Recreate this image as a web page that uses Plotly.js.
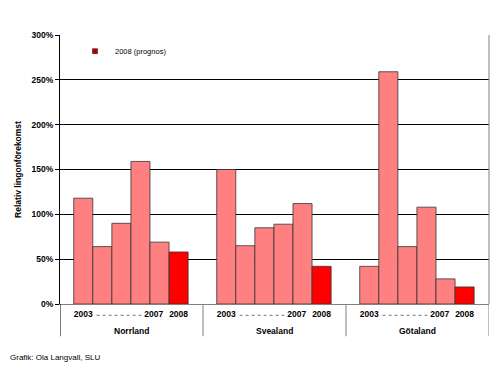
<!DOCTYPE html>
<html><head><meta charset="utf-8">
<script src="https://cdn.plot.ly/plotly-3.0.1.min.js"></script>
<style>html,body{margin:0;padding:0;background:#fff}#c{width:500px;height:371px}</style>
</head><body><div id="c"></div>
<script>
const regions = ["Norrland", "Svealand", "Götaland"];
const years = [2003, 2004, 2005, 2006, 2007, 2008];
const historic = {
  "Norrland": [118, 64, 90, 159, 69],
  "Svealand": [150, 65, 85, 89, 112],
  "Götaland": [42, 259, 64, 108, 28]
};
const prognos2008 = [58, 42, 19];
const yTicks = [0, 50, 100, 150, 200, 250, 300];
const yTickLabels = ["0%", "50%", "100%", "150%", "200%", "250%", "300%"];
const yearTickLabels = ["2003", "2007", "2008"];
const legendLabel = "2008 (prognos)";
const yTitle = "Relativ lingonförekomst";
const credit = "Grafik: Ola Langvall, SLU";

const GROUP = 7.5, PAD = 0.72;
const pos = (g, i) => g * GROUP + PAD + i + 0.5;

const hx = [], hy = [], px = [], py = [];
const tickvals = [], ticktext = [];
const shapes = [], annotations = [];
const F = "Liberation Sans, Arial, sans-serif";

regions.forEach((r, g) => {
  historic[r].forEach((v, i) => { hx.push(pos(g, i)); hy.push(v); });
  px.push(pos(g, 5)); py.push(prognos2008[g]);
  tickvals.push(pos(g, 0), pos(g, 4) - 0.3, pos(g, 5));
  ticktext.push(...yearTickLabels);
  shapes.push({type: "line", xref: "x", yref: "paper", x0: pos(g, 0) + 0.7, x1: pos(g, 4) - 0.95,
    y0: -0.042, y1: -0.042, line: {color: "#777", width: 1, dash: "dot"}});
  annotations.push({x: g * GROUP + GROUP / 2, y: -0.1, xref: "x", yref: "paper", text: r,
    showarrow: false, yanchor: "middle", font: {family: F, size: 8.5, weight: "bold", color: "#000"}});
});
for (let g = 0; g <= regions.length; g++) {
  shapes.push({type: "line", xref: "x", yref: "paper", x0: g * GROUP, x1: g * GROUP, y0: 0, y1: -0.12,
    line: {color: g === 0 ? "#000" : "#808080", width: 1}});
}
shapes.push({type: "line", xref: "paper", yref: "paper", x0: 1, x1: 1, y0: 0, y1: 1, line: {color: "#808080", width: 1}});
annotations.push({x: -0.121, y: -0.2, xref: "paper", yref: "paper", text: credit, showarrow: false,
  xanchor: "left", yanchor: "middle", font: {family: F, size: 8, color: "#000"}});

const traces = [
  {type: "bar", x: hx, y: hy, width: 1, showlegend: false, hoverinfo: "y",
   marker: {color: "#FF8080", line: {color: "#333", width: 0.8}}},
  {type: "bar", x: px, y: py, width: 1, showlegend: false, hoverinfo: "y",
   marker: {color: "#FF0000", line: {color: "#333", width: 0.8}}},
  {type: "scatter", mode: "markers", x: [null], y: [null], name: legendLabel, showlegend: true,
   marker: {symbol: "square", size: 5, color: "#B00000", line: {color: "#400", width: 0.5}}}
];

const layout = {
  width: 500, height: 371,
  margin: {l: 60, r: 11, t: 35, b: 67},
  paper_bgcolor: "#fff", plot_bgcolor: "#fff",
  font: {family: F, size: 8, color: "#000"},
  showlegend: true,
  legend: {x: 0.035, y: 0.94, xanchor: "left", yanchor: "middle", bgcolor: "rgba(0,0,0,0)",
    font: {family: F, size: 7.5, color: "#000"}, itemwidth: 30},
  barmode: "overlay",
  xaxis: {range: [0, GROUP * regions.length], tickmode: "array", tickvals: tickvals, ticktext: ticktext,
    showgrid: false, zeroline: false, showline: true, linecolor: "#808080", linewidth: 1,
    ticks: "", tickangle: 0, ticklabelstandoff: 2,
    tickfont: {family: F, size: 8.5, weight: "bold", color: "#000"}},
  yaxis: {range: [0, 300], tickmode: "array", tickvals: yTicks, ticktext: yTickLabels,
    showgrid: true, gridcolor: "#000", gridwidth: 1, zeroline: true, zerolinecolor: "#808080",
    showline: true, linecolor: "#000", linewidth: 1, ticks: "outside", ticklen: 4, tickcolor: "#000",
    tickfont: {family: F, size: 8.5, weight: "bold", color: "#000"},
    title: {text: yTitle, standoff: 8, font: {family: F, size: 8.5, weight: "bold", color: "#000"}}},
  shapes: shapes,
  annotations: annotations
};
Plotly.newPlot("c", traces, layout, {displayModeBar: false, staticPlot: true});
</script></body></html>
